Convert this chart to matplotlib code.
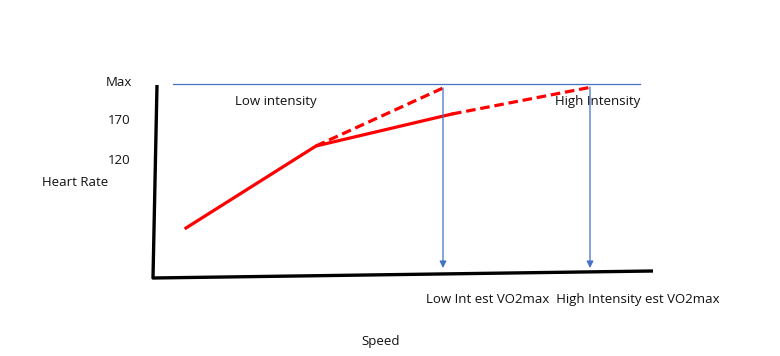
import matplotlib
matplotlib.use("Agg")
import matplotlib.pyplot as plt

# diagram coordinates (speed ~ x, heart rate ~ y, canvas units, y grows downward)
axis_x = [157, 153, 653]
axis_y = [85, 278, 271]

max_line_x = [173, 640]
max_line_y = [84, 84]

solid_x = [186, 316, 452]
solid_y = [228, 146, 114]

low_dash_x = [316, 443]
low_dash_y = [146, 88]

high_dash_x = [452, 592]
high_dash_y = [114, 87]

arrow_x = [443, 590]
arrow_top = [88, 87]
arrow_bottom = [268, 268]

tick_labels = ["Max", "170", "120"]
tick_y = [82, 121, 161]

plt.rcParams['font.family'] = ['Open Sans', 'DejaVu Sans']

fig = plt.figure(figsize=(7.8, 3.56), dpi=100)
ax = fig.add_axes([0, 0, 1, 1])
ax.set_xlim(0, 780)
ax.set_ylim(356, 0)
ax.axis('off')

ax.plot(axis_x, axis_y, color='black', lw=2.4, solid_capstyle='butt')
ax.plot(max_line_x, max_line_y, color='#4472c4', lw=0.9)
ax.plot(solid_x, solid_y, color='red', lw=2.3)
ax.plot(low_dash_x, low_dash_y, color='red', lw=2.3, dashes=(3, 1.5))
ax.plot(high_dash_x, high_dash_y, color='red', lw=2.3, dashes=(3, 1.5))

for x, y0, y1 in zip(arrow_x, arrow_top, arrow_bottom):
    ax.annotate('', xy=(x, y1), xytext=(x, y0),
                arrowprops=dict(arrowstyle='-|>', color='#4472c4', lw=0.9,
                                mutation_scale=10, shrinkA=0, shrinkB=0))

fs = 9.5
tc = '#111111'
for lab, y in zip(tick_labels, tick_y):
    ax.text(119, y, lab, ha='center', va='center', fontsize=fs, color=tc)
ax.text(42, 183, "Heart Rate", ha='left', va='center', fontsize=fs, color=tc)
ax.text(235, 101, "Low intensity", ha='left', va='center', fontsize=fs, color=tc)
ax.text(555, 101, "High Intensity", ha='left', va='center', fontsize=fs, color=tc)
ax.text(426, 299, "Low Int est VO2max  High Intensity est VO2max", ha='left',
        va='center', fontsize=fs, color=tc)
ax.text(381, 341, "Speed", ha='center', va='center', fontsize=fs, color=tc)

fig.savefig('out.png', dpi=100)
